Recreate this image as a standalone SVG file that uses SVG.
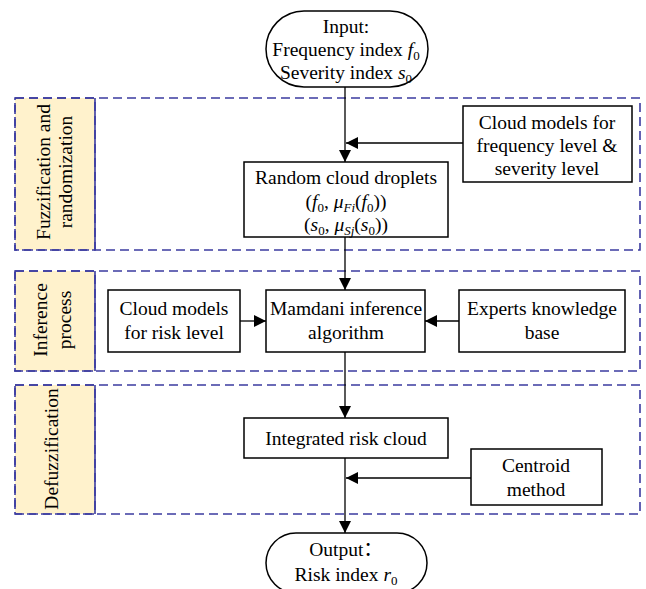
<svg xmlns="http://www.w3.org/2000/svg" width="646" height="589" viewBox="0 0 646 589" font-family="'Liberation Serif', serif">
<defs>
<marker id="ah" markerUnits="userSpaceOnUse" markerWidth="12" markerHeight="12" viewBox="0 0 12 12" refX="12" refY="6" orient="auto">
<path d="M0,0 L12,6 L0,12 Z" fill="#000"/>
</marker>
</defs>
<style>
text{font-family:'Liberation Serif',serif;font-size:19.5px;fill:#000;text-anchor:middle}
.cjk{font-family:'Liberation Serif','Noto Sans CJK SC',serif}
.box{fill:#fff;stroke:#000;stroke-width:1.5}
.sec{fill:none;stroke:#3b3ba0;stroke-width:1.6;stroke-dasharray:9,5}
.lab{fill:#fff2cc;stroke:#3b3ba0;stroke-width:1.6;stroke-dasharray:9,5}
.div{stroke:#3b3ba0;stroke-width:1.6}
.con{fill:none;stroke:#000;stroke-width:1.3;marker-end:url(#ah)}
.i{font-style:italic}
.sub{font-size:13px}
</style>
<g id="sections">
<g id="sec1"><rect class="lab" x="15" y="98" width="80" height="152"/><rect class="sec" x="15" y="98" width="625" height="152"/><line class="div" x1="95" y1="98" x2="95" y2="250"/>
<text transform="translate(50,172) rotate(-90)">Fuzzification and</text><text transform="translate(72,172) rotate(-90)">randomization</text></g>
<g id="sec2"><rect class="lab" x="15" y="271" width="80" height="100"/><rect class="sec" x="15" y="271" width="625" height="100"/><line class="div" x1="95" y1="271" x2="95" y2="371"/>
<text transform="translate(47,320) rotate(-90)">Inference</text><text transform="translate(71,320) rotate(-90)">process</text></g>
<g id="sec3"><rect class="lab" x="15" y="385" width="80" height="129"/><rect class="sec" x="15" y="385" width="625" height="129"/><line class="div" x1="95" y1="385" x2="95" y2="514"/>
<text transform="translate(58,449) rotate(-90)">Defuzzification</text></g>
</g>
<g id="connectors">
<line class="con" x1="345" y1="87" x2="345" y2="162"/>
<line class="con" x1="463" y1="143" x2="346" y2="143"/>
<line class="con" x1="345" y1="237" x2="345" y2="290"/>
<line class="con" x1="240" y1="321" x2="266" y2="321"/>
<line class="con" x1="459" y1="321" x2="425" y2="321"/>
<line class="con" x1="345" y1="352" x2="345" y2="418"/>
<line class="con" x1="345" y1="458" x2="345" y2="533"/>
<line class="con" x1="471" y1="478" x2="346" y2="478"/>
</g>
<g id="input"><rect class="box" x="266" y="11" width="162" height="76" rx="38" ry="38"/>
<text x="346" y="33">Input:</text>
<text x="346" y="56">Frequency index <tspan class="i">f</tspan><tspan class="sub" dy="4">0</tspan></text>
<text x="346" y="79">Severity index <tspan class="i">s</tspan><tspan class="sub" dy="4">0</tspan></text></g>
<g id="freq"><rect class="box" x="463" y="106" width="169" height="76"/>
<text x="547" y="129">Cloud models for</text><text x="547" y="152">frequency level &amp;</text><text x="547" y="175">severity level</text></g>
<g id="random"><rect class="box" x="244" y="162" width="204" height="75"/>
<text x="346" y="184">Random cloud droplets</text>
<text x="346" y="208">(<tspan class="i">f</tspan><tspan class="sub" dy="4">0</tspan><tspan dy="-4">, </tspan><tspan class="i">μ</tspan><tspan class="sub i" dy="4">Fi</tspan><tspan dy="-4">(</tspan><tspan class="i">f</tspan><tspan class="sub" dy="4">0</tspan><tspan dy="-4">))</tspan></text>
<text x="346" y="231">(<tspan class="i">s</tspan><tspan class="sub" dy="4">0</tspan><tspan dy="-4">, </tspan><tspan class="i">μ</tspan><tspan class="sub i" dy="4">Sj</tspan><tspan dy="-4">(</tspan><tspan class="i">s</tspan><tspan class="sub" dy="4">0</tspan><tspan dy="-4">))</tspan></text></g>
<g id="cloudrisk"><rect class="box" x="108" y="290" width="132" height="62"/>
<text x="174" y="315">Cloud models</text><text x="174" y="339">for risk level</text></g>
<g id="mamdani"><rect class="box" x="266" y="290" width="159" height="62"/>
<text x="346" y="315">Mamdani inference</text><text x="346" y="339">algorithm</text></g>
<g id="experts"><rect class="box" x="459" y="290" width="166" height="62"/>
<text x="542" y="315">Experts knowledge</text><text x="542" y="339">base</text></g>
<g id="integrated"><rect class="box" x="244" y="418" width="204" height="40"/>
<text x="346" y="445">Integrated risk cloud</text></g>
<g id="centroid"><rect class="box" x="471" y="449" width="131" height="56"/>
<text x="536" y="472">Centroid</text><text x="536" y="496">method</text></g>
<g id="output"><rect class="box" x="266" y="533" width="161" height="60" rx="30" ry="30"/>
<text class="cjk" x="346" y="556">Output：</text>
<text x="346" y="581">Risk index <tspan class="i">r</tspan><tspan class="sub" dy="4">0</tspan></text></g>
</svg>
